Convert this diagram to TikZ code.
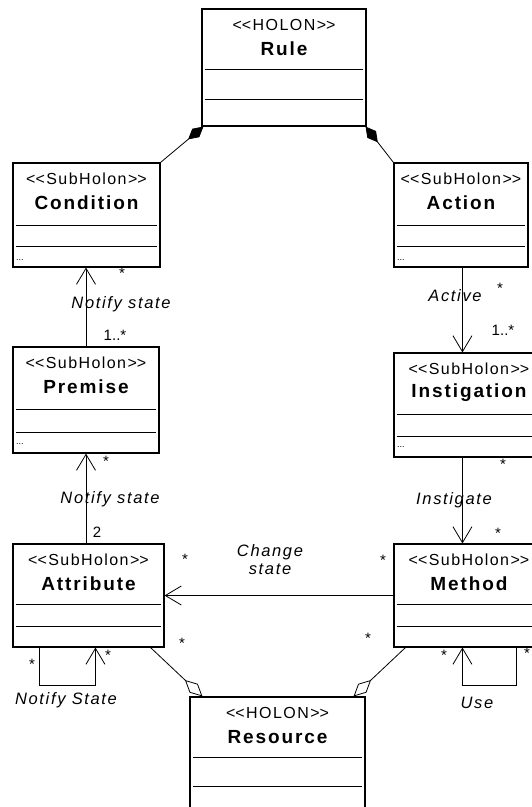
\documentclass[tikz,border=0pt]{standalone}
\usepackage{fontspec}
\setmainfont{Liberation Sans}
\newfontfamily\umlfont[LetterSpace=9]{Liberation Sans}
\newfontfamily\umlwide[LetterSpace=10]{Liberation Sans}
\usetikzlibrary{arrows.meta,fit}

% stereotype brackets, kept apart so they stay two characters
\newcommand\guil[1]{<\kern0pt<#1>\kern0pt>}

% a holon class: name, left, top, right, bottom, stereotype, title, line, line
\newcommand\holonbox[9]{%
  \node[holon, fit={(#2,#3) (#4,#5)}] (#1) {};
  \node[stereo] (#1-st) at (#1.north |- 0,#3+15.5) {\guil{#6}};
  \node[title] (#1-ti) at (#1.north |- 0,#3+40) {#7};
  \draw[compart] (#2+3,#8) -- (#4-3,#8);
  \draw[compart] (#2+3,#9) -- (#4-3,#9);
}

\begin{document}
\begin{tikzpicture}[x=1pt, y=-1pt,
    holon/.style={draw, line width=1.1pt, inner sep=0pt},
    compart/.style={line width=0.9pt},
    stereo/.style={font=\umlfont\fontsize{16}{18}\selectfont, inner sep=0pt},
    title/.style={font=\umlwide\bfseries\fontsize{19}{21}\selectfont, inner sep=0pt},
    lbl/.style={font=\umlwide\itshape\fontsize{16.5}{18}\selectfont, inner sep=0pt, align=center},
    mult/.style={font=\fontsize{15}{17}\selectfont, inner sep=0pt},
    dots/.style={font=\fontsize{9}{10}\selectfont, inner sep=0pt, anchor=west},
    link/.style={line width=0.8pt},
    navi/.style={-{Straight Barb[length=16pt,width=19pt]}},
    compo/.style={-{Diamond[length=20pt,width=11pt]}},
    aggr/.style={-{Diamond[open,length=24pt,width=12pt]}}
  ]
  \useasboundingbox (0,0) rectangle (532,807);

  % the classes
  \holonbox{rule}{202}{9}{366}{126}{HOLON}{Rule}{69}{99}
  \holonbox{condition}{13}{163}{160}{267}{SubHolon}{Condition}{225}{246}
  \holonbox{action}{394}{163}{528}{267}{SubHolon}{Action}{225}{246}
  \holonbox{premise}{13}{347}{159}{453}{SubHolon}{Premise}{409}{432}
  \holonbox{instigation}{394}{353}{544}{457}{SubHolon}{Instigation}{414}{436}
  \holonbox{attribute}{13}{544}{164}{647}{SubHolon}{Attribute}{604}{626}
  \holonbox{method}{394}{544}{544}{647}{SubHolon}{Method}{604}{626}
  \holonbox{resource}{190}{697}{365}{812}{HOLON}{Resource}{757}{786}

  \node[dots] (condition-dots) at (16,260) {...};
  \node[dots] (action-dots) at (397,260) {...};
  \node[dots] (premise-dots) at (16,444) {...};
  \node[dots] (instigation-dots) at (397,447) {...};

  % composition into the rule
  \draw[link, compo] (condition.north east) -- ([xshift=2pt]rule.south west);
  \draw[link, compo] (action.north west) -- ([xshift=-1pt]rule.south east);

  % left chain
  \draw[link, navi] (premise.north) -- (premise.north |- condition.south);
  \node[mult] (m-cond) at (122,273) {*};
  \node[lbl] (notify1) at (121,304) {Notify state};
  \node[mult] (m-prem1) at (115,335) {1..*};

  \draw[link, navi] (premise.south |- attribute.north) -- (premise.south);
  \node[mult] (m-prem2) at (106,461) {*};
  \node[lbl] (notify2) at (110,499) {Notify state};
  \node[mult] (m-attr1) at (97,532) {2};

  % right chain
  \draw[link, navi] ([xshift=69pt]action.south west) -- ([xshift=69pt]instigation.north west);
  \node[lbl] (active) at (455,296) {Active};
  \node[mult] (m-act) at (500,288) {*};
  \node[mult] (m-inst1) at (503,330) {1..*};

  \draw[link, navi] ([xshift=69pt]instigation.south west) -- ([xshift=69pt]method.north west);
  \node[mult] (m-inst2) at (503,464) {*};
  \node[lbl] (instigate) at (454,500) {Instigate};
  \node[mult] (m-meth1) at (498,533) {*};

  % change state
  \draw[link, navi] (method.west) -- (attribute.east);
  \node[lbl] (change) at (270,560) {Change\\state};
  \node[mult] (m-attr2) at (185,559) {*};
  \node[mult] (m-meth2) at (383,560) {*};

  % self loops
  \draw[link, navi] ([xshift=27pt]attribute.south west) -- ++(0,38)
    -| ([xshift=83pt]attribute.south west);
  \node[mult] (m-attr3) at (32,664) {*};
  \node[mult] (m-attr4) at (108,655) {*};
  \node[lbl] (notify3) at (66,700) {Notify State};

  \draw[link, navi] ([xshift=123pt]method.south west) -- ++(0,38)
    -| ([xshift=69pt]method.south west);
  \node[mult] (m-meth3) at (444,655) {*};
  \node[mult] (m-meth4) at (527,653) {*};
  \node[lbl] (use) at (477,703) {Use};

  % aggregation of the resource
  \draw[link, aggr] ([xshift=-14pt]attribute.south east) -- ([xshift=13pt]resource.north west);
  \node[mult] (m-attr5) at (182,643) {*};
  \draw[link, aggr] ([xshift=12pt]method.south west) -- ([xshift=-12pt]resource.north east);
  \node[mult] (m-meth5) at (368,638) {*};
\end{tikzpicture}
\end{document}
